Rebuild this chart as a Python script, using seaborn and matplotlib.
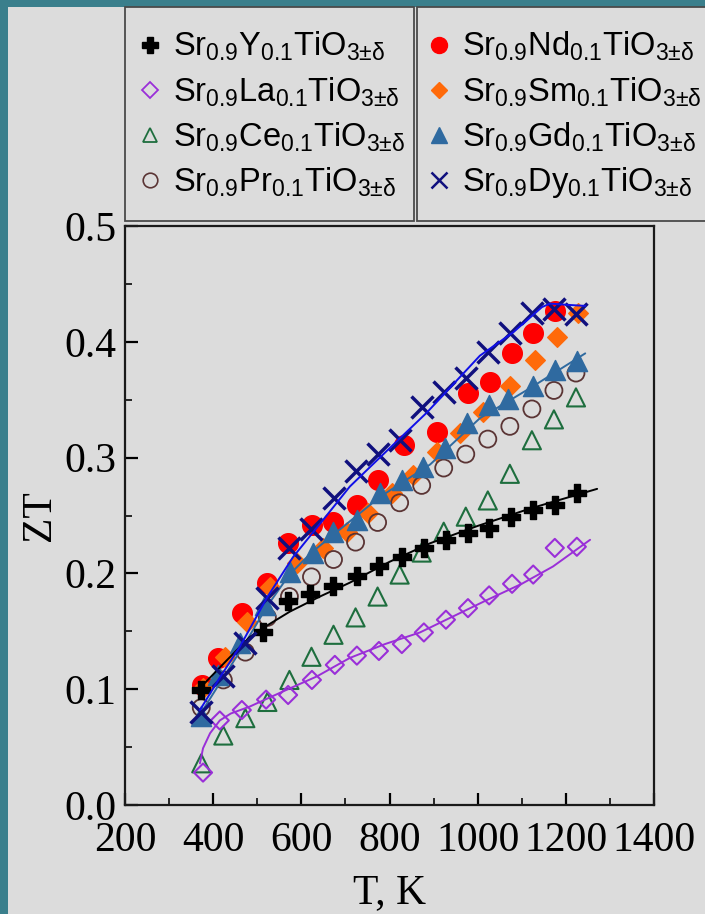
import matplotlib
matplotlib.use("Agg")
import numpy as np
import pandas as pd
import seaborn as sns
import matplotlib.pyplot as plt
from matplotlib.lines import Line2D
from matplotlib.patches import Rectangle

# ---------------- data ----------------
T_Y  = [373, 513, 570, 620, 672, 726, 776, 828, 878, 928, 978, 1026, 1076, 1126, 1175, 1225]
ZT_Y = [0.099, 0.149, 0.176, 0.182, 0.189, 0.198, 0.206, 0.214, 0.222, 0.229, 0.235, 0.239, 0.249, 0.255, 0.259, 0.269]

T_La  = [377, 415, 465, 520, 570, 624, 676, 726, 776, 828, 878, 928, 978, 1026, 1078, 1126, 1175, 1225]
ZT_La = [0.028, 0.073, 0.082, 0.091, 0.095, 0.108, 0.121, 0.129, 0.133, 0.139, 0.149, 0.160, 0.170, 0.181, 0.191, 0.199, 0.222, 0.223]

T_Ce  = [373, 423, 473, 523, 573, 623, 673, 723, 773, 823, 873, 923, 973, 1023, 1073, 1123, 1173, 1223]
ZT_Ce = [0.036, 0.060, 0.075, 0.089, 0.108, 0.128, 0.147, 0.162, 0.180, 0.199, 0.218, 0.236, 0.249, 0.263, 0.286, 0.315, 0.333, 0.352]

T_Pr  = [373, 423, 473, 523, 573, 623, 673, 723, 773, 823, 873, 923, 973, 1023, 1073, 1123, 1173, 1223]
ZT_Pr = [0.084, 0.108, 0.132, 0.162, 0.180, 0.197, 0.212, 0.227, 0.244, 0.261, 0.276, 0.291, 0.303, 0.316, 0.327, 0.342, 0.358, 0.373]

T_Nd  = [375, 411, 465, 522, 570, 624, 672, 726, 774, 833, 908, 978, 1028, 1078, 1126, 1175]
ZT_Nd = [0.104, 0.127, 0.166, 0.192, 0.226, 0.242, 0.244, 0.259, 0.281, 0.311, 0.322, 0.356, 0.365, 0.390, 0.408, 0.427]

T_Sm  = [377, 427, 477, 529, 590, 649, 704, 751, 806, 853, 908, 960, 1012, 1073, 1130, 1180, 1228]
ZT_Sm = [0.101, 0.128, 0.158, 0.188, 0.209, 0.222, 0.236, 0.252, 0.269, 0.285, 0.305, 0.321, 0.339, 0.362, 0.384, 0.404, 0.425]

T_Gd  = [373, 411, 461, 518, 574, 626, 672, 726, 778, 828, 876, 926, 976, 1026, 1069, 1126, 1175, 1225]
ZT_Gd = [0.077, 0.112, 0.140, 0.173, 0.201, 0.218, 0.236, 0.246, 0.269, 0.281, 0.292, 0.308, 0.330, 0.345, 0.351, 0.362, 0.376, 0.383]

T_Dy  = [373, 423, 473, 523, 573, 623, 673, 723, 773, 823, 873, 923, 973, 1023, 1073, 1123, 1173, 1223]
ZT_Dy = [0.080, 0.111, 0.140, 0.179, 0.222, 0.238, 0.265, 0.288, 0.303, 0.315, 0.344, 0.357, 0.369, 0.391, 0.408, 0.425, 0.428, 0.424]

# fitted curves (knots)
FIT_T_Y  = [365, 431, 483, 518, 574, 642, 710, 800, 892, 1000, 1119, 1271]
FIT_Z_Y  = [0.099, 0.125, 0.145, 0.154, 0.167, 0.180, 0.192, 0.210, 0.226, 0.241, 0.256, 0.273]
FIT_T_La = [370, 377, 393, 415, 440, 483, 558, 635, 710, 790, 869, 945, 1021, 1100, 1171, 1255]
FIT_Z_La = [0.036, 0.049, 0.062, 0.073, 0.079, 0.085, 0.098, 0.111, 0.127, 0.139, 0.149, 0.163, 0.177, 0.191, 0.206, 0.229]
FIT_T_Gd = [365, 423, 473, 523, 573, 623, 665, 778, 892, 1005, 1119, 1244]
FIT_Z_Gd = [0.075, 0.110, 0.140, 0.172, 0.199, 0.218, 0.231, 0.266, 0.294, 0.334, 0.360, 0.390]
FIT_T_Dy = [370, 415, 461, 522, 581, 649, 710, 778, 885, 1005, 1080, 1146, 1164, 1200, 1244]
FIT_Z_Dy = [0.082, 0.110, 0.137, 0.179, 0.214, 0.246, 0.275, 0.300, 0.339, 0.388, 0.408, 0.430, 0.433, 0.432, 0.431]

LABELS = [r"Sr$_{0.9}$Y$_{0.1}$TiO$_{3±δ}$", r"Sr$_{0.9}$La$_{0.1}$TiO$_{3±δ}$",
          r"Sr$_{0.9}$Ce$_{0.1}$TiO$_{3±δ}$", r"Sr$_{0.9}$Pr$_{0.1}$TiO$_{3±δ}$",
          r"Sr$_{0.9}$Nd$_{0.1}$TiO$_{3±δ}$", r"Sr$_{0.9}$Sm$_{0.1}$TiO$_{3±δ}$",
          r"Sr$_{0.9}$Gd$_{0.1}$TiO$_{3±δ}$", r"Sr$_{0.9}$Dy$_{0.1}$TiO$_{3±δ}$"]

X_TICKS = [200, 400, 600, 800, 1000, 1200, 1400]
Y_TICKS = [0.0, 0.1, 0.2, 0.3, 0.4, 0.5]

# ---------------- style ----------------
sns.set_theme(style="ticks")
plt.rcParams["font.family"] = ["Liberation Serif", "DejaVu Serif"]
plt.rcParams["mathtext.fontset"] = "custom"
plt.rcParams["mathtext.rm"] = "Liberation Sans"
plt.rcParams["mathtext.it"] = "Liberation Sans"
plt.rcParams["mathtext.default"] = "regular"

TEAL = "#3a7f8c"
GRAY = "#dcdcdc"
C_Y, C_La, C_Ce, C_Pr = "#000000", "#9a2fd8", "#1e6e3e", "#5a3434"
C_Nd, C_Sm, C_Gd, C_Dy = "#ff0000", "#ff6a0a", "#2f6aa0", "#10107e"
C_DyLine = "#1010e8"

W, H = 705, 914
fig = plt.figure(figsize=(W / 100, H / 100), dpi=100, facecolor=TEAL)
fig.add_artist(Rectangle((8 / W, 0), 1, 1 - 7 / H, transform=fig.transFigure,
                         facecolor=GRAY, edgecolor="none", zorder=-10))

ax = fig.add_axes([125 / W, 1 - 805 / H, (654 - 125) / W, (805 - 226) / H])
ax.set_facecolor(GRAY)


def scat(T, Z, marker, s, color, open_=False, lw=1.0, z=3):
    sns.scatterplot(x=T, y=Z, ax=ax, marker=marker, s=s, color=color,
                    edgecolor=color, linewidth=lw, legend=False, zorder=z)
    coll = ax.collections[-1]
    if open_:
        coll.set_facecolor("none")
    coll.set_edgecolor(color)
    coll.set_linewidth(lw)


def fit(T, Z, color, lw=1.4, z=4):
    sns.lineplot(x=T, y=Z, ax=ax, color=color, lw=lw, sort=False,
                 estimator=None, legend=False, zorder=z)


scat(T_Nd, ZT_Nd, "o", 200, C_Nd, z=3)
scat(T_Sm, ZT_Sm, "D", 100, C_Sm, z=3.1)
scat(T_Pr, ZT_Pr, "o", 150, C_Pr, open_=True, lw=1.3, z=3.2)
scat(T_Gd, ZT_Gd, "^", 210, C_Gd, z=3.3)
fit(FIT_T_Gd, FIT_Z_Gd, C_Gd, z=3.35)
scat(T_Ce, ZT_Ce, "^", 170, C_Ce, open_=True, lw=1.5, z=3.4)
scat(T_La, ZT_La, "D", 85, C_La, open_=True, lw=1.5, z=3.5)
fit(FIT_T_La, FIT_Z_La, C_La, z=3.55)
scat(T_Y, ZT_Y, "P", 150, C_Y, z=3.6)
fit(FIT_T_Y, FIT_Z_Y, C_Y, z=3.65)
scat(T_Dy, ZT_Dy, "x", 250, C_Dy, lw=2.5, z=3.7)
fit(FIT_T_Dy, FIT_Z_Dy, C_DyLine, z=3.75)

# axes formatting
ax.set_xlim(200, 1400)
ax.set_ylim(0, 0.5)
ax.set_xticks(X_TICKS)
ax.set_xticklabels([str(v) for v in X_TICKS])
ax.set_yticks(Y_TICKS)
ax.set_yticklabels([f"{v:.1f}" for v in Y_TICKS])
ax.set_xticks(np.arange(300, 1400, 200), minor=True)
ax.set_yticks(np.arange(0.05, 0.5, 0.1), minor=True)
ax.tick_params(axis="both", which="major", direction="in", length=9, width=1.6,
               labelsize=30, colors="black", top=False, right=False)
ax.tick_params(axis="x", which="major", pad=12)
ax.tick_params(axis="y", which="major", pad=6)
ax.tick_params(axis="both", which="minor", direction="in", length=5, width=1.4,
               top=False, right=False)
for sp in ax.spines.values():
    sp.set_linewidth(1.6)
    sp.set_color("#1a1a1a")
    sp.set_visible(True)
ax.set_xlabel("T, K", fontsize=30, labelpad=10, color="black")
ax.set_ylabel("ZT", fontsize=30, labelpad=4, color="black")

# legends in two boxes
for x0 in (125, 417):
    fig.add_artist(Rectangle((x0 / W, 1 - 221 / H), 289 / W, (221 - 7) / H,
                             transform=fig.transFigure, facecolor=GRAY,
                             edgecolor="#4a4a4a", lw=1.3, zorder=-5))

h_left = [
    Line2D([], [], ls="none", marker="P", ms=12, color=C_Y, mec=C_Y),
    Line2D([], [], ls="none", marker="D", ms=8, mfc="none", mec=C_La, mew=1.3),
    Line2D([], [], ls="none", marker="^", ms=10, mfc="none", mec=C_Ce, mew=1.3),
    Line2D([], [], ls="none", marker="o", ms=10.5, mfc="none", mec=C_Pr, mew=1.2),
]
h_right = [
    Line2D([], [], ls="none", marker="o", ms=11.5, color=C_Nd),
    Line2D([], [], ls="none", marker="D", ms=8.5, color=C_Sm),
    Line2D([], [], ls="none", marker="^", ms=11.5, color=C_Gd),
    Line2D([], [], ls="none", marker="x", ms=11.5, mec=C_Dy, mew=1.8),
]
prop = {"family": "Liberation Sans", "size": 23.5}
for handles, labels, x0 in ((h_left, LABELS[:4], 140), (h_right, LABELS[4:], 429)):
    lg = fig.legend(handles, labels, loc="upper left",
                    bbox_to_anchor=(x0 / W, 1 - 30 / H), bbox_transform=fig.transFigure,
                    frameon=False, prop=prop, labelspacing=0.36, handlelength=0.6,
                    handletextpad=0.4, borderpad=0, borderaxespad=0)
    for t in lg.get_texts():
        t.set_color("black")

fig.savefig("out.png", dpi=100, facecolor=TEAL)
